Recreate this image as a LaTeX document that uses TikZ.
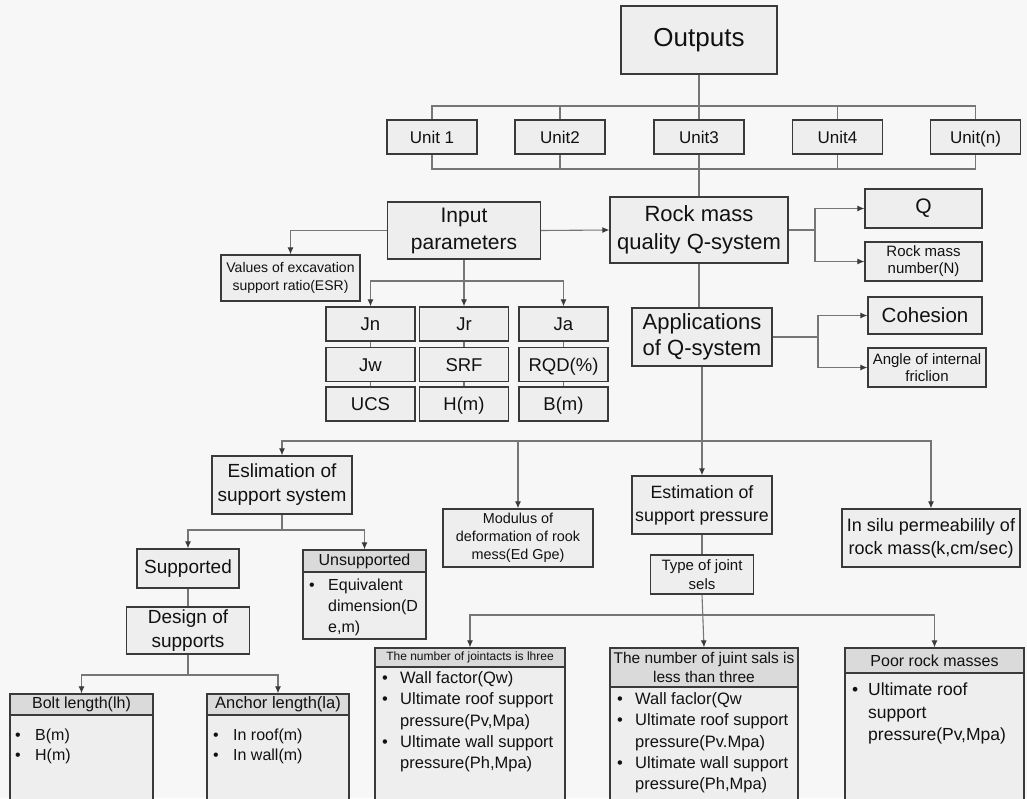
\documentclass[tikz,border=0pt]{standalone}
\usepackage{fontspec}
\setmainfont{Liberation Sans}
\usetikzlibrary{arrows.meta}
\definecolor{bg}{HTML}{F7F7F7}
\definecolor{boxfill}{HTML}{EEEEEE}
\definecolor{headfill}{HTML}{DADADA}
\definecolor{edge}{HTML}{3A3A3A}
\definecolor{wire}{HTML}{767676}
\definecolor{ink}{HTML}{111111}
\newcommand{\fsz}[2]{\fontsize{#1}{#2}\selectfont}
\newcommand{\itm}[1]{\makebox[\bulw][l]{\textbullet}#1}
\newcommand{\cnt}[1]{\hspace*{\bulw}#1}
\newlength{\bulw}

\begin{document}
\begin{tikzpicture}[x=1pt,y=-1pt,
  box/.style={draw=edge, line width=1.3pt, fill=boxfill, text=ink, inner sep=0pt, align=center},
  head/.style={box, fill=headfill},
  items/.style={anchor=north west, inner sep=0pt, align=left, text=ink},
  wireline/.style={draw=wire, line width=1.1pt},
  arr/.style={wireline, -{Latex[length=7pt,width=6pt,color=edge]}}]

\useasboundingbox (0,0) rectangle (1027,798);
\clip (0,0) rectangle (1027,798);
\fill[bg] (0,0) rectangle (1027,798);

% ---------- outputs and units ----------
\node[box, minimum width=156pt, minimum height=68pt, font={\fsz{26}{30}}] (out) at (699,40) {Outputs};
\foreach \nm/\xx/\tx in {u1/432/{Unit 1}, u2/560/Unit2, u3/699/Unit3, u4/837.5/Unit4, un/975.5/Unit(n)}
  \node[box, minimum width=90pt, minimum height=34pt, text height=12.2pt, text depth=0pt, font={\fsz{17}{20}}] (\nm) at (\xx,137) {\tx};
\coordinate (tb) at (699,106);
\coordinate (bb) at (699,169);

% ---------- Q-system core ----------
\node[box, minimum width=178pt, minimum height=66pt, font={\fsz{22}{28}}] (rock) at (699,230) {Rock mass\\quality Q-system};
\node[box, minimum width=153pt, minimum height=57pt, font={\fsz{21}{27}}] (inp) at (464,230.5) {Input\\parameters};
\node[box, minimum width=139pt, minimum height=46pt, font={\fsz{14}{18}}] (esr) at (290.5,278) {Values of excavation\\support ratio(ESR)};

% parameter grid
\foreach \nm/\xx/\yy/\tx in {jn/370.5/324/Jn, jr/464/324/Jr, ja/563.5/324/Ja,
    jw/370.5/364.5/Jw, srf/464/364.5/SRF, rqd/563.5/364.5/RQD(\%),
    ucs/370.5/404/UCS, hm/464/404/H(m), bm/563.5/404/B(m)}
  \node[box, minimum width=89pt, minimum height=34pt, text height=13.3pt, text depth=0pt, font={\fsz{18.5}{22}}] (\nm) at (\xx,\yy) {\tx};

\node[box, minimum width=117pt, minimum height=39pt, font={\fsz{21}{24}}] (q) at (923.5,208.5) {Q};
\node[box, minimum width=117pt, minimum height=39pt, font={\fsz{15}{17}}] (rmn) at (923.5,261.5) {Rock mass\\number(N)};
\node[box, minimum width=140pt, minimum height=58pt, font={\fsz{22}{26}}] (app) at (702,337) {Applications\\of Q-system};
\node[box, minimum width=114pt, minimum height=37pt, font={\fsz{20.5}{24}}] (coh) at (925,315.5) {Cohesion};
\node[box, minimum width=118pt, minimum height=39pt, font={\fsz{15}{17}}] (ang) at (927,367.5) {Angle of internal\\friclion};

% ---------- applications ----------
\node[box, minimum width=140pt, minimum height=58pt, font={\fsz{19}{24}}] (esl) at (282,485) {Eslimation of\\support system};
\node[box, minimum width=150pt, minimum height=58pt, font={\fsz{14.4}{18}}] (mod) at (518,538) {Modulus of\\deformation of rook\\mess(Ed Gpe)};
\node[box, minimum width=140pt, minimum height=58pt, font={\fsz{17.8}{23}}] (est) at (702,505) {Estimation of\\support pressure};
\node[box, minimum width=178pt, minimum height=58pt, font={\fsz{18}{23}}] (ins) at (931,538) {In silu permeabilily of\\rock mass(k,cm/sec)};
\node[box, minimum width=103pt, minimum height=39pt, font={\fsz{15}{19}}] (typ) at (702,574.5) {Type of joint\\sels};

% support system branch
\node[box, minimum width=102pt, minimum height=39pt, font={\fsz{19}{24}}] (sup) at (188,568.5) {Supported};
\node[head, minimum width=123pt, minimum height=22pt, font={\fsz{16}{19}}] (unsh) at (364.5,561) {Unsupported};
\node[box, minimum width=123pt, minimum height=67pt] (unsb) at (364.5,605.5) {};
\setlength{\bulw}{19pt}
\node[items, font={\fsz{16}{21}}] (unsi) at (309,578.6) {\itm{Equivalent}\\\cnt{dimension(D}\\\cnt{e,m)}};
\node[box, minimum width=123pt, minimum height=47pt, font={\fsz{19}{24}}] (des) at (188,630.5) {Design of\\supports};

\node[head, minimum width=143pt, minimum height=21pt, font={\fsz{16}{19}}] (bolth) at (81.5,704.5) {Bolt length(lh)};
\node[box, minimum width=143pt, minimum height=90pt] (boltb) at (81.5,760) {};
\node[head, minimum width=142pt, minimum height=21pt, font={\fsz{16.5}{19}}] (anch) at (278,704.5) {Anchor length(la)};
\node[box, minimum width=142pt, minimum height=90pt] (ancb) at (278,760) {};
\setlength{\bulw}{20pt}
\node[items, font={\fsz{16}{20}}] (bolti) at (15,728.6) {\itm{B(m)}\\\itm{H(m)}};
\node[items, font={\fsz{16}{20}}] (anci) at (213,728.6) {\itm{In roof(m)}\\\itm{In wall(m)}};

% support pressure branch
\node[head, minimum width=190pt, minimum height=19pt, font={\fsz{12}{14}}] (jth) at (470,657.5) {The number of jointacts is lhree};
\node[box, minimum width=190pt, minimum height=138pt] (jtb) at (470,736) {};
\node[head, minimum width=188pt, minimum height=39pt, font={\fsz{15.5}{19}}] (lth) at (704,667.5) {The number of juint sals is\\less than three};
\node[box, minimum width=188pt, minimum height=118pt] (ltb) at (704,746) {};
\node[head, minimum width=179pt, minimum height=25pt, font={\fsz{16}{19}}] (prh) at (934.5,660.5) {Poor rock masses};
\node[box, minimum width=179pt, minimum height=132pt] (prb) at (934.5,739) {};
\setlength{\bulw}{18pt}
\node[items, font={\fsz{16.5}{21.3}}] (jti) at (382,671.4) {\itm{Wall factor(Qw)}\\\itm{Ultimate roof support}\\\cnt{pressure(Pv,Mpa)}\\\itm{Ultimate wall support}\\\cnt{pressure(Ph,Mpa)}};
\node[items, font={\fsz{16.5}{21.3}}] (lti) at (617,692.4) {\itm{Wall faclor(Qw}\\\itm{Ultimate roof support}\\\cnt{pressure(Pv.Mpa)}\\\itm{Ultimate wall support}\\\cnt{pressure(Ph,Mpa)}};
\setlength{\bulw}{16pt}
\node[items, font={\fsz{17.5}{22.5}}] (pri) at (852,683) {\itm{Ultimate roof}\\\cnt{support}\\\cnt{pressure(Pv,Mpa)}};

% ---------- connectors ----------
\draw[wireline] (out.south) -- (u3.north);
\draw[wireline] (u1.north) |- (tb) -| (un.north);
\draw[wireline] (u2.north) -- (u2.north |- tb);
\draw[wireline] (u4.north) -- (u4.north |- tb);
\draw[wireline] (u1.south) |- (bb) -| (un.south);
\draw[wireline] (u2.south) -- (u2.south |- bb);
\draw[wireline] (u4.south) -- (u4.south |- bb);
\draw[wireline] (u3.south) -- (rock.north);

\draw[arr] (inp.east) -- (rock.west);
\draw[arr] (inp.west) -| (esr.north);
\coordinate (ij) at (464,281);
\draw[arr] (inp.south) -- (jr.north);
\draw[arr] (ij) -| (jn.north);
\draw[arr] (ij) -| (ja.north);
\foreach \a/\b in {jn/jw, jw/ucs, jr/srf, srf/hm, ja/rqd, rqd/bm}
  \draw[wireline] (\a.south) -- (\b.north);

\coordinate (rj) at (815,230);
\draw[wireline] (rock.east) -- (rj);
\draw[arr] (rj) |- (q.west);
\draw[arr] (rj) |- (rmn.west);
\draw[wireline] (rock.south) -- (rock.south |- app.north);
\coordinate (aj) at (818,337);
\draw[wireline] (app.east) -- (aj);
\draw[arr] (aj) |- (coh.west);
\draw[arr] (aj) |- (ang.west);

\draw[arr] (app.south) -- (est.north);
\coordinate (mb) at (702,441);
\draw[arr] (mb) -| (esl.north);
\draw[arr] (mb) -| (ins.north);
\draw[arr] (mod.north |- mb) -- (mod.north);
\draw[wireline] (est.south) -- (typ.north);

\coordinate (ej) at (282,530);
\draw[wireline] (esl.south) -- (ej);
\draw[arr] (ej) -| (sup.north);
\draw[arr] (ej) -| (unsh.north);
\draw[wireline] (sup.south) -- (des.north);
\coordinate (dj) at (188,675);
\draw[wireline] (des.south) -- (dj);
\draw[arr] (dj) -| (bolth.north);
\draw[arr] (dj) -| (anch.north);

\coordinate (tj) at (702,615);
\draw[arr] (typ.south) -- (lth.north);
\draw[arr] (tj) -| (jth.north);
\draw[arr] (tj) -| (prh.north);
\end{tikzpicture}
\end{document}
